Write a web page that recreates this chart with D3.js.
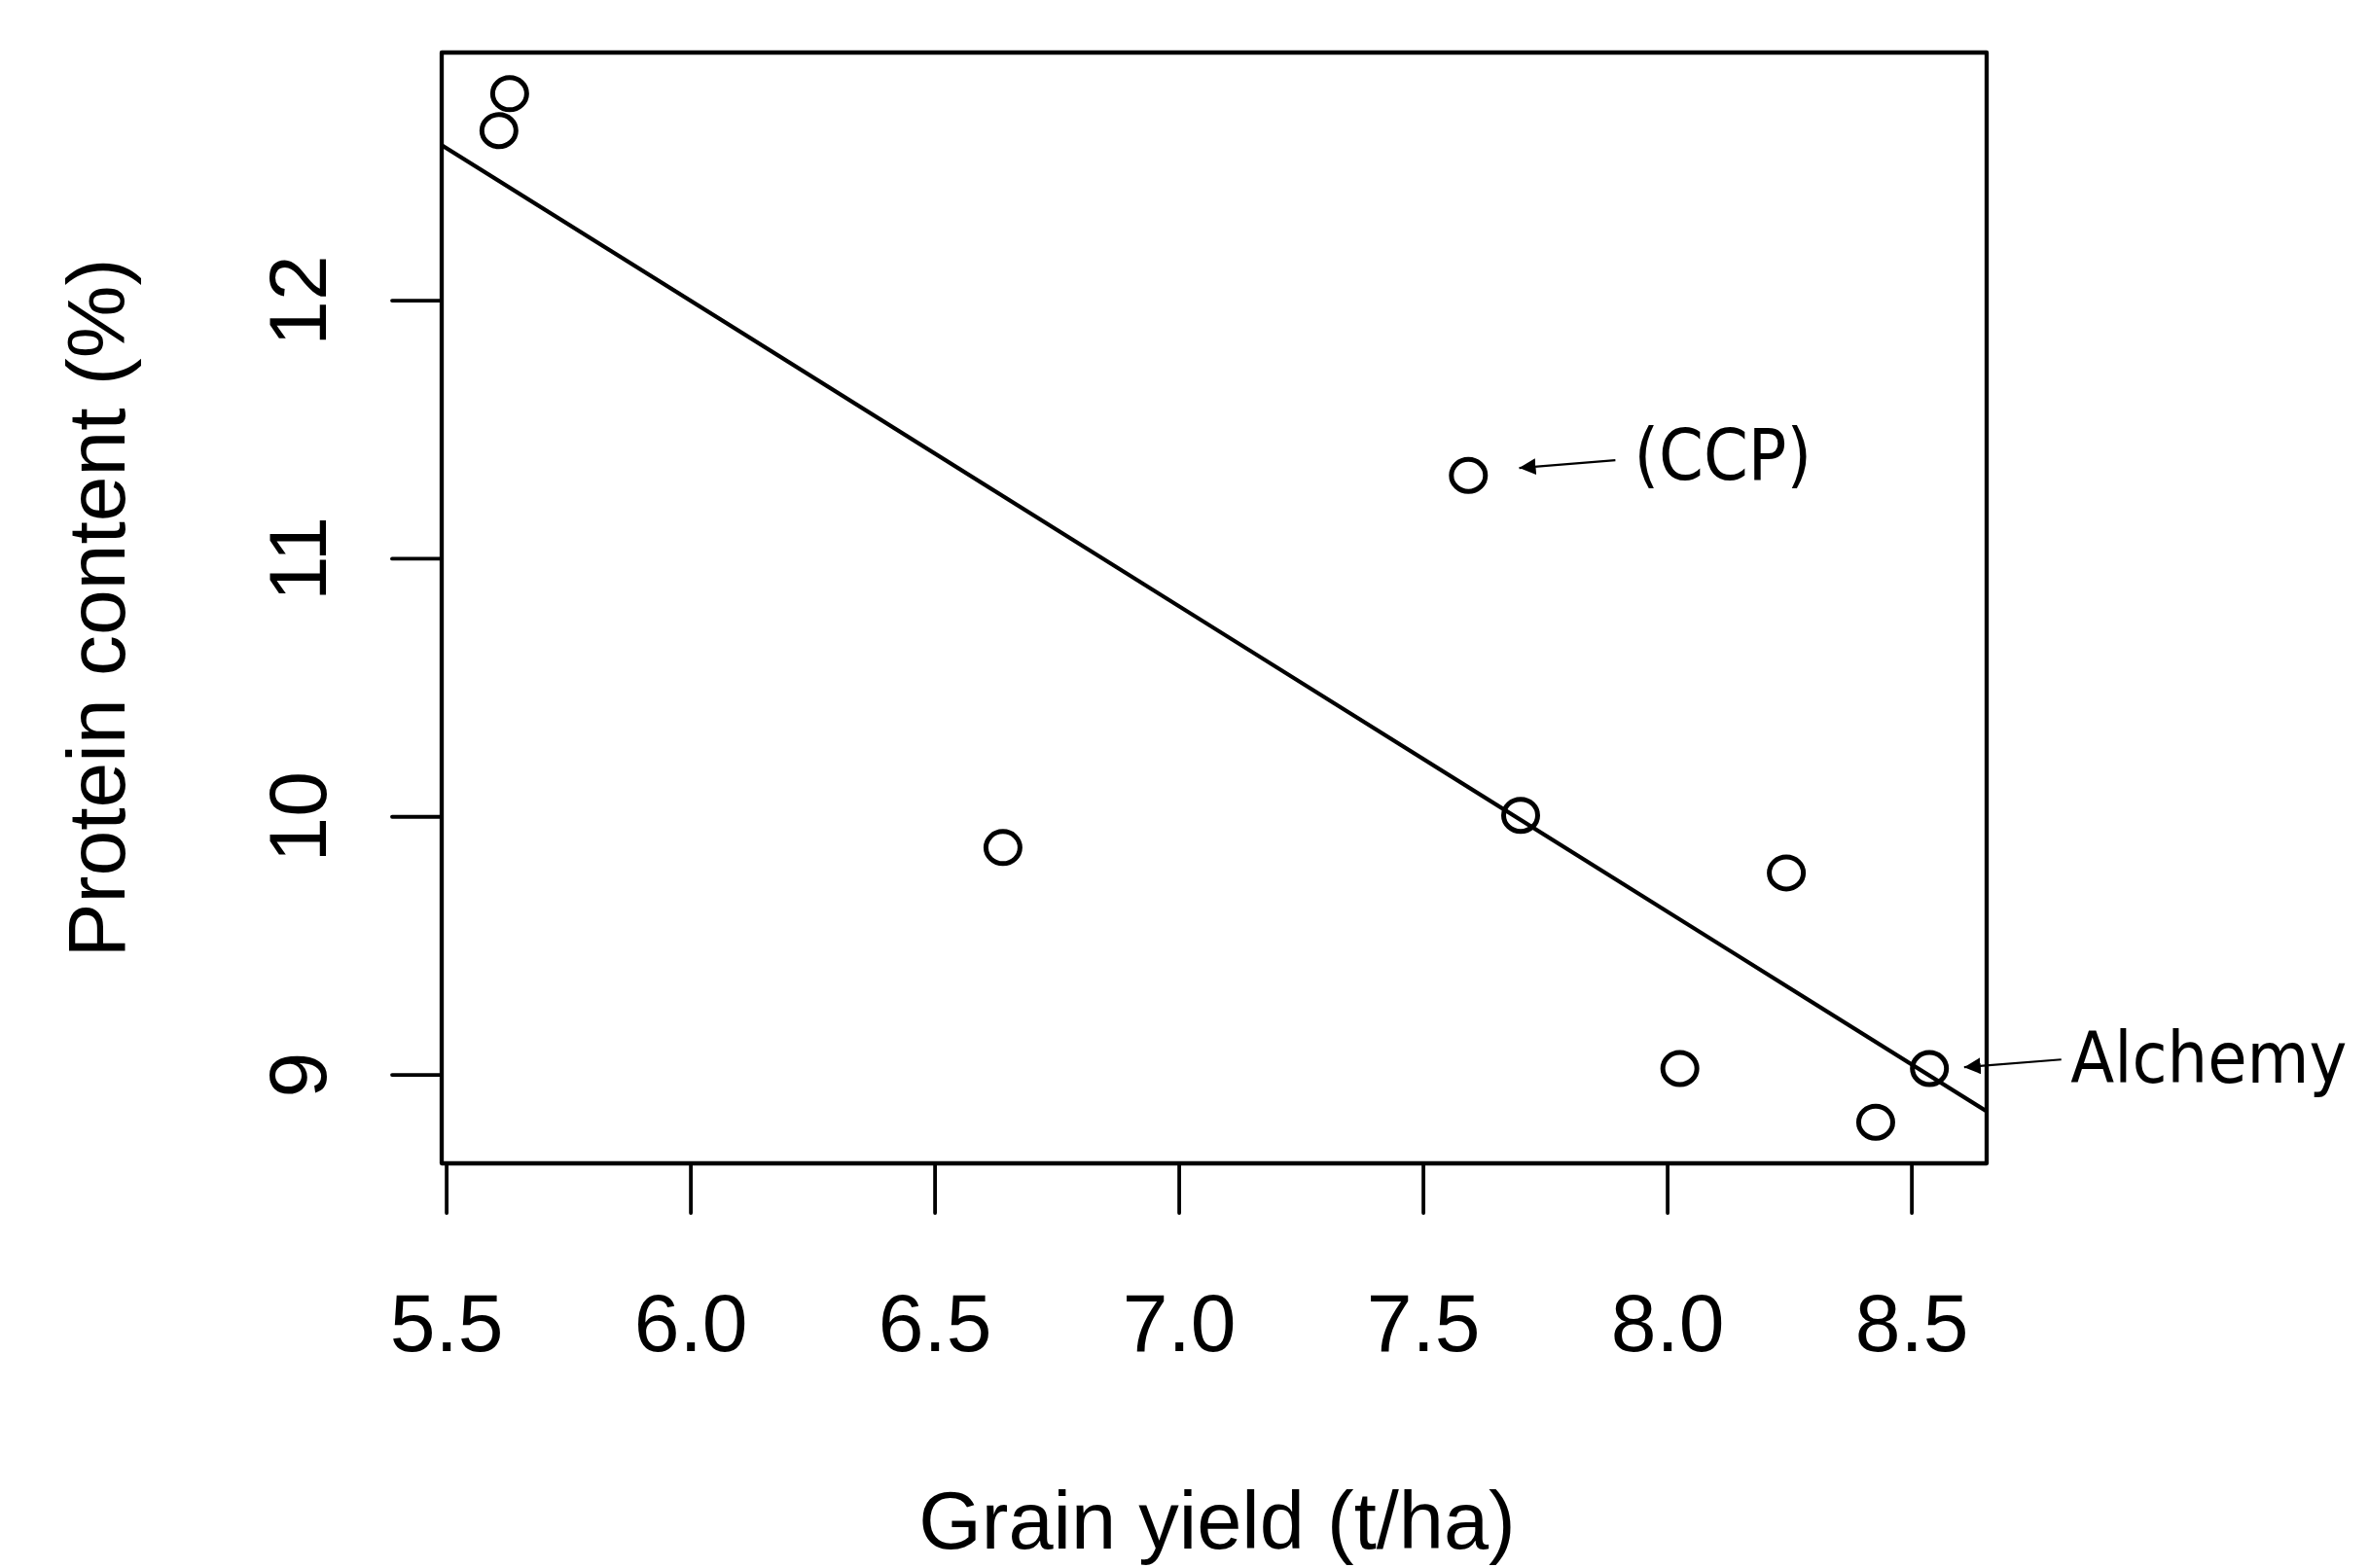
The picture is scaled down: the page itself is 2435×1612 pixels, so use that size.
<!DOCTYPE html>
<html>
<head>
<meta charset="utf-8">
<script src="https://cdn.jsdelivr.net/npm/d3@7"></script>
<style>
  html, body { margin: 0; padding: 0; background: #fff; }
  svg { display: block; }
  .tick-label, .axis-title { font-family: "Liberation Sans", Arial, sans-serif; fill: #000; }
  .annot { font-family: "DejaVu Sans Condensed", "DejaVu Sans", sans-serif; font-stretch: condensed; fill: #000; }
</style>
</head>
<body>
<script>
// ---- data ----
const grainYield = [5.630, 5.608, 7.593, 6.640, 7.700, 8.244, 8.026, 8.427, 8.537];
const proteinContent = [12.800, 12.657, 11.321, 9.879, 10.004, 9.781, 9.023, 8.815, 9.023];
const xTickValues = [5.5, 6.0, 6.5, 7.0, 7.5, 8.0, 8.5];
const yTickValues = [9, 10, 11, 12];
const xTitle = "Grain yield (t/ha)";
const yTitle = "Protein content (%)";
// annotations: label, label anchor (data), arrow start -> arrow tip (data)
const annotLabels = ["(CCP)", "Alchemy"];
const annotTextX = [7.932, 8.826];
const annotTextY = [11.305, 8.968];
const annotArrowFrom = [[7.894, 11.380], [8.807, 9.058]];
const annotArrowTo = [[7.697, 11.350], [8.608, 9.028]];

// ---- layout ----
const W = 2435, H = 1612;
const box = { left: 454, right: 2042, top: 54, bottom: 1196 };

const svg = d3.select("body").append("svg").attr("width", W).attr("height", H);
svg.append("rect").attr("width", W).attr("height", H).attr("fill", "#fff");

// R-style 4% axis expansion
function expand(ext) { const d = ext[1] - ext[0]; return [ext[0] - 0.04 * d, ext[1] + 0.04 * d]; }
const x = d3.scaleLinear().domain(expand(d3.extent(grainYield))).range([box.left, box.right]);
const y = d3.scaleLinear().domain(expand(d3.extent(proteinContent))).range([box.bottom, box.top]);

// clip
svg.append("defs").append("clipPath").attr("id", "plotclip")
  .append("rect").attr("x", box.left).attr("y", box.top)
  .attr("width", box.right - box.left).attr("height", box.bottom - box.top);

// regression line (least squares fit of the data)
const mx = d3.mean(grainYield), my = d3.mean(proteinContent);
let sxy = 0, sxx = 0;
grainYield.forEach((v, i) => { sxy += (v - mx) * (proteinContent[i] - my); sxx += (v - mx) * (v - mx); });
const slope = sxy / sxx, intercept = my - slope * mx;
const xd = x.domain();
svg.append("line")
  .attr("clip-path", "url(#plotclip)")
  .attr("x1", x(xd[0])).attr("y1", y(intercept + slope * xd[0]))
  .attr("x2", x(xd[1])).attr("y2", y(intercept + slope * xd[1]))
  .attr("stroke", "#000").attr("stroke-width", 4.2);

// points (open "o" glyph markers)
svg.append("g").selectAll("ellipse").data(grainYield).join("ellipse")
  .attr("cx", (d) => x(d))
  .attr("cy", (d, i) => y(proteinContent[i]))
  .attr("rx", 17.5).attr("ry", 16.5)
  .attr("fill", "none").attr("stroke", "#000").attr("stroke-width", 5);

// box
svg.append("rect")
  .attr("x", box.left).attr("y", box.top)
  .attr("width", box.right - box.left).attr("height", box.bottom - box.top)
  .attr("fill", "none").attr("stroke", "#000").attr("stroke-width", 4.3)
  .attr("stroke-linejoin", "round");

// x axis ticks via d3 axis
const xAxis = d3.axisBottom(x).tickValues(xTickValues).tickSize(51).tickPadding(0).tickFormat(d3.format(".1f"));
const gx = svg.append("g").attr("transform", `translate(0,${box.bottom})`).call(xAxis);
gx.select(".domain").remove();
gx.selectAll(".tick line").attr("stroke", "#000").attr("stroke-width", 3.8).attr("stroke-linecap", "round");
gx.selectAll(".tick text").attr("class", "tick-label")
  .attr("font-size", 84).attr("font-family", "Liberation Sans, Arial, sans-serif")
  .attr("y", 1389 - box.bottom).attr("dy", null).attr("fill", "#000");

// y axis ticks
const yAxis = d3.axisLeft(y).tickValues(yTickValues).tickSize(51).tickPadding(0).tickFormat(d3.format("d"));
const gy = svg.append("g").attr("transform", `translate(${box.left},0)`).call(yAxis);
gy.select(".domain").remove();
gy.selectAll(".tick line").attr("stroke", "#000").attr("stroke-width", 3.8).attr("stroke-linecap", "round");
gy.selectAll(".tick text")
  .attr("font-size", 84).attr("font-family", "Liberation Sans, Arial, sans-serif")
  .attr("x", null).attr("dy", null).attr("fill", "#000")
  .attr("text-anchor", "middle")
  .attr("transform", `translate(${335 - box.left},0) rotate(-90)`);

// axis titles
svg.append("text").attr("class", "axis-title")
  .attr("x", (box.left + box.right) / 2 + 3).attr("y", 1592)
  .attr("text-anchor", "middle").attr("font-size", 83).text(xTitle);
svg.append("text").attr("class", "axis-title")
  .attr("transform", `translate(128,${(box.top + box.bottom) / 2}) rotate(-90)`)
  .attr("text-anchor", "middle").attr("font-size", 84).text(yTitle);

// annotations
svg.append("defs").append("marker").attr("id", "arrowhead")
  .attr("viewBox", "0 0 10 10").attr("refX", 10).attr("refY", 5)
  .attr("markerWidth", 17).attr("markerHeight", 17).attr("markerUnits", "userSpaceOnUse")
  .attr("orient", "auto")
  .append("path").attr("d", "M0,0 L10,5 L0,10 Z").attr("fill", "#000");

annotLabels.forEach((lab, i) => {
  svg.append("line")
    .attr("x1", x(annotArrowFrom[i][0])).attr("y1", y(annotArrowFrom[i][1]))
    .attr("x2", x(annotArrowTo[i][0])).attr("y2", y(annotArrowTo[i][1]))
    .attr("stroke", "#000").attr("stroke-width", 2.2)
    .attr("marker-end", "url(#arrowhead)");
  svg.append("text").attr("class", "annot")
    .attr("x", x(annotTextX[i])).attr("y", y(annotTextY[i]))
    .attr("font-size", 73).text(lab);
});
</script>
</body>
</html>
